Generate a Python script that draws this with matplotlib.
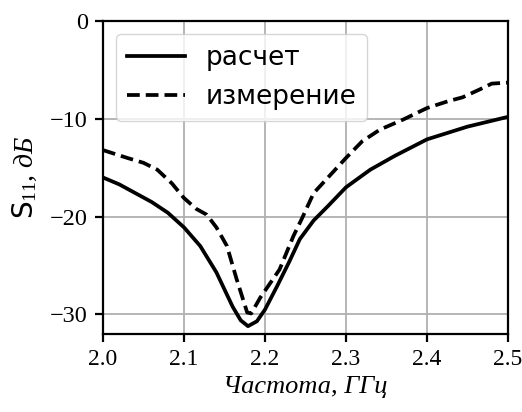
import matplotlib
matplotlib.use("Agg")
import matplotlib.pyplot as plt

f_calc = [2.0, 2.02, 2.04, 2.06, 2.08, 2.10, 2.12, 2.14, 2.16, 2.17, 2.179, 2.19, 2.20,
          2.215, 2.23, 2.243, 2.26, 2.278, 2.30, 2.33, 2.36, 2.40, 2.45, 2.5]
s_calc = [-16.0, -16.7, -17.6, -18.5, -19.6, -21.1, -23.0, -25.7, -29.2, -30.6, -31.2, -30.7, -29.5,
          -27.1, -24.6, -22.3, -20.4, -18.9, -17.0, -15.2, -13.8, -12.1, -10.8, -9.8]

f_meas = [2.0, 2.03, 2.05, 2.067, 2.085, 2.10, 2.115, 2.128, 2.14, 2.153, 2.165, 2.178, 2.183,
          2.194, 2.218, 2.235, 2.245, 2.26, 2.28, 2.30, 2.32, 2.342, 2.37, 2.40, 2.426, 2.444,
          2.465, 2.48, 2.5]
s_meas = [-13.2, -14.0, -14.5, -15.2, -16.6, -18.1, -19.2, -19.8, -21.1, -23.0, -26.4, -29.8, -29.9,
          -28.3, -25.4, -22.0, -20.3, -17.6, -15.8, -14.0, -12.3, -11.1, -10.1, -8.9, -8.2, -7.8,
          -7.0, -6.4, -6.3]

labels = ["расчет", "измерение"]
xticks = [2.0, 2.1, 2.2, 2.3, 2.4, 2.5]
yticks = [0, -10, -20, -30]

plt.rcParams["mathtext.fontset"] = "custom"
plt.rcParams["mathtext.rm"] = "Liberation Serif"
plt.rcParams["mathtext.sf"] = "DejaVu Sans"
plt.rcParams["mathtext.it"] = "Liberation Serif:italic"

fig = plt.figure(figsize=(5.22, 4.12), dpi=100)
ax = fig.add_axes([103/522, 1-334/412, (508-103)/522, (334-21)/412])

ax.plot(f_calc, s_calc, color="black", lw=2.7, ls="-", label=labels[0])
ax.plot(f_meas, s_meas, color="black", lw=2.7, ls="--", dashes=(3.4, 1.6), label=labels[1])

ax.set_xlim(2.0, 2.5)
ax.set_ylim(-32, 0)
ax.set_xticks(xticks)
ax.set_yticks(yticks)
ax.set_xticklabels([f"{v:.1f}" for v in xticks], fontfamily="Liberation Serif", fontsize=17)
ax.set_yticklabels([f"\u2212{-v}" if v < 0 else "0" for v in yticks], fontfamily="Liberation Serif", fontsize=17.5)
ax.grid(True, color="#b0b0b0", lw=1.3)
ax.tick_params(direction="out", length=6, width=1.6, pad=5)
for s in ax.spines.values():
    s.set_linewidth(1.6)

ax.set_xlabel("Частота, ГГц", fontfamily="Liberation Serif", fontstyle="italic", fontsize=19)
ax.set_ylabel(r"$\mathsf{S}_{\mathrm{11}}$, дБ", fontfamily="Liberation Serif", fontstyle="italic",
              fontsize=20, labelpad=8)

leg = ax.legend(loc="upper left", prop={"family": "DejaVu Sans", "size": 19},
                handlelength=2.2, handletextpad=0.8, borderaxespad=0.5)

fig.savefig("out.png", dpi=100)
